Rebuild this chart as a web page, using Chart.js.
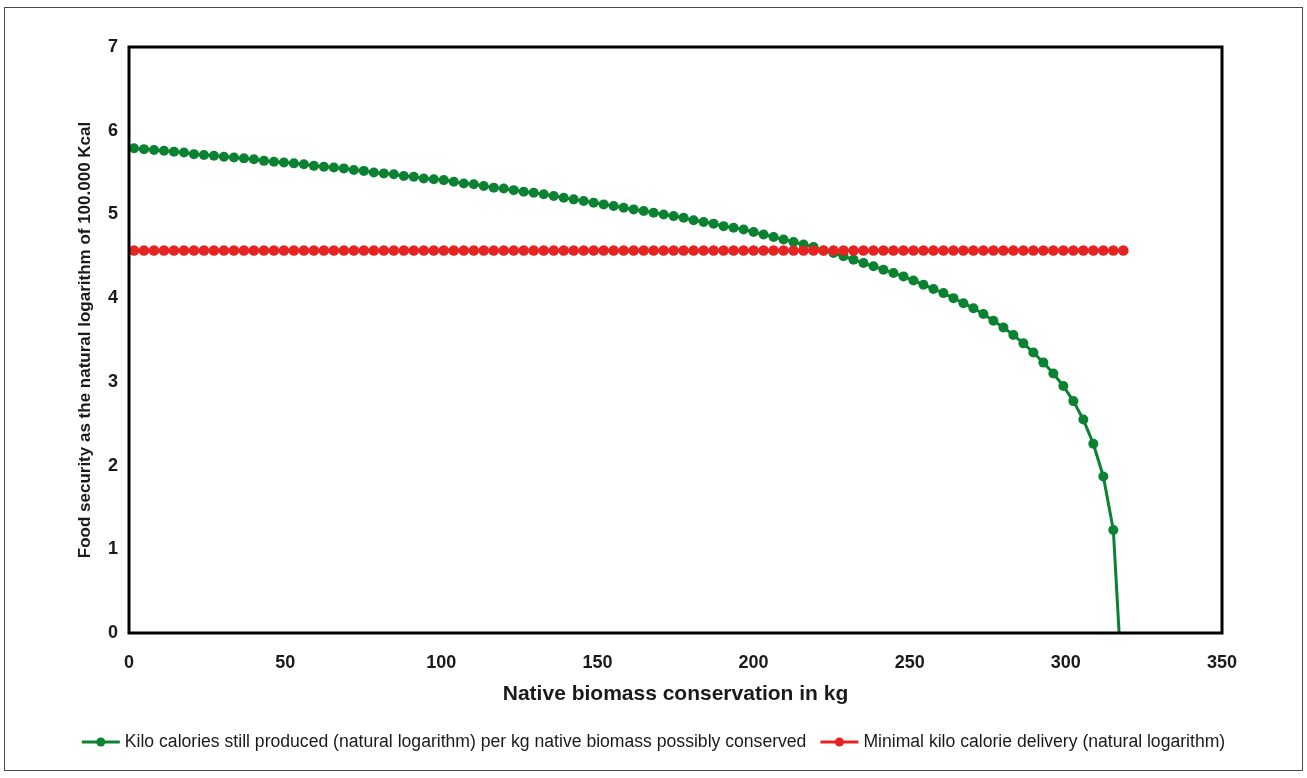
<!DOCTYPE html>
<html>
<head>
<meta charset="utf-8">
<title>Food security and native biomass conservation</title>
<script src="https://cdn.jsdelivr.net/npm/chart.js@4.4.1/dist/chart.umd.min.js"></script>
<style>
  html, body { margin: 0; padding: 0; background: #fff; }
  #wrap { width: 1307px; height: 778px; }
</style>
</head>
<body>
<div id="wrap"><canvas id="chartFood" width="1307" height="778"></canvas></div>
<script>
/* ================================================================
   Food security (ln kcal) against native biomass conserved (kg)
   ================================================================ */

// ============= DATA =============
// native biomass conserved, kg (x of every point)
const biomassKg = [
  1.6, 4.8, 8.0, 11.2, 14.4, 17.6, 20.8, 24.0, 27.2, 30.4,
  33.6, 36.8, 40.0, 43.2, 46.4, 49.6, 52.8, 56.0, 59.2, 62.4,
  65.6, 68.8, 72.0, 75.2, 78.4, 81.6, 84.8, 88.0, 91.2, 94.4,
  97.6, 100.8, 104.0, 107.2, 110.4, 113.6, 116.8, 120.0, 123.2, 126.4,
  129.6, 132.8, 136.0, 139.2, 142.4, 145.6, 148.8, 152.0, 155.2, 158.4,
  161.6, 164.8, 168.0, 171.2, 174.4, 177.6, 180.8, 184.0, 187.2, 190.4,
  193.6, 196.8, 200.0, 203.2, 206.4, 209.6, 212.8, 216.0, 219.2, 222.4,
  225.6, 228.8, 232.0, 235.2, 238.4, 241.6, 244.8, 248.0, 251.2, 254.4,
  257.6, 260.8, 264.0, 267.2, 270.4, 273.6, 276.8, 280.0, 283.2, 286.4,
  289.6, 292.8, 296.0, 299.2, 302.4, 305.6, 308.8, 312.0, 315.2, 318.4
];

// kilo calories still produced, natural logarithm
const keptKcalLog = [
  5.79, 5.78, 5.77, 5.76, 5.75, 5.74, 5.72, 5.71, 5.70, 5.69,
  5.68, 5.67, 5.66, 5.64, 5.63, 5.62, 5.61, 5.60, 5.58, 5.57,
  5.56, 5.55, 5.53, 5.52, 5.50, 5.49, 5.48, 5.46, 5.45, 5.43,
  5.42, 5.41, 5.39, 5.37, 5.36, 5.34, 5.32, 5.31, 5.29, 5.27,
  5.26, 5.24, 5.22, 5.20, 5.18, 5.16, 5.14, 5.12, 5.10, 5.08,
  5.06, 5.04, 5.02, 5.00, 4.98, 4.96, 4.93, 4.91, 4.89, 4.86,
  4.84, 4.82, 4.79, 4.76, 4.73, 4.70, 4.67, 4.64, 4.61, 4.57,
  4.54, 4.50, 4.46, 4.42, 4.38, 4.34, 4.30, 4.26, 4.21, 4.16,
  4.11, 4.06, 4.00, 3.94, 3.88, 3.81, 3.73, 3.65, 3.56, 3.46,
  3.35, 3.23, 3.10, 2.95, 2.77, 2.55, 2.26, 1.87, 1.23, -0.90
];

// minimal kilo calorie delivery, natural logarithm
const minimalKcalLog = [
  4.57, 4.57, 4.57, 4.57, 4.57, 4.57, 4.57, 4.57, 4.57, 4.57,
  4.57, 4.57, 4.57, 4.57, 4.57, 4.57, 4.57, 4.57, 4.57, 4.57,
  4.57, 4.57, 4.57, 4.57, 4.57, 4.57, 4.57, 4.57, 4.57, 4.57,
  4.57, 4.57, 4.57, 4.57, 4.57, 4.57, 4.57, 4.57, 4.57, 4.57,
  4.57, 4.57, 4.57, 4.57, 4.57, 4.57, 4.57, 4.57, 4.57, 4.57,
  4.57, 4.57, 4.57, 4.57, 4.57, 4.57, 4.57, 4.57, 4.57, 4.57,
  4.57, 4.57, 4.57, 4.57, 4.57, 4.57, 4.57, 4.57, 4.57, 4.57,
  4.57, 4.57, 4.57, 4.57, 4.57, 4.57, 4.57, 4.57, 4.57, 4.57,
  4.57, 4.57, 4.57, 4.57, 4.57, 4.57, 4.57, 4.57, 4.57, 4.57,
  4.57, 4.57, 4.57, 4.57, 4.57, 4.57, 4.57, 4.57, 4.57, 4.57
];

const xTickValues = [0, 50, 100, 150, 200, 250, 300, 350];
const yTickValues = [0, 1, 2, 3, 4, 5, 6, 7];

const seriesNames = [
  'Kilo calories still produced (natural logarithm) per kg native biomass possibly conserved',
  'Minimal kilo calorie delivery (natural logarithm)'
];
const xTitle = 'Native biomass conservation in kg';
const yTitle = 'Food security as the natural logarithm of 100.000 Kcal';

const GREEN = '#0a8232';
const RED = '#e52421';
const INK = '#1a1a1a';

function toPoints(ys) {
  return ys.map(function(y, i) { return { x: biomassKg[i], y: y }; });
}

// ============= FRAME + LEGEND =============
const framePlugin = {
  id: 'frame',
  beforeDraw: function(chart) {
    const ctx = chart.ctx;
    ctx.save();
    ctx.fillStyle = '#fff';
    ctx.fillRect(0, 0, chart.width, chart.height);
    ctx.strokeStyle = '#4a4a4a';
    ctx.lineWidth = 1;
    ctx.strokeRect(4.5, 7.5, chart.width - 9, chart.height - 15);
    ctx.restore();
  },
  afterDatasetsDraw: function(chart) {
    const ctx = chart.ctx;
    const a = chart.chartArea;
    ctx.save();
    ctx.strokeStyle = '#000';
    ctx.lineWidth = 3;
    ctx.strokeRect(a.left, a.top, a.right - a.left, a.bottom - a.top);
    ctx.restore();
  },
  afterDraw: function(chart) {
    const ctx = chart.ctx;
    const markW = 38, gapText = 5, gapItem = 14, y = 742;
    ctx.save();
    ctx.font = '17.6px "Liberation Sans", Arial, sans-serif';
    const items = chart.data.datasets
      .slice()
      .sort(function(a, b) { return a.legendIndex - b.legendIndex; })
      .map(function(ds) {
        return { text: ds.label, color: ds.borderColor, w: ctx.measureText(ds.label).width };
      });
    let total = gapItem * (items.length - 1);
    items.forEach(function(it) { total += markW + gapText + it.w; });
    let x = (chart.width - total) / 2;
    items.forEach(function(it) {
      ctx.strokeStyle = it.color;
      ctx.lineWidth = 3;
      ctx.beginPath();
      ctx.moveTo(x, y);
      ctx.lineTo(x + markW, y);
      ctx.stroke();
      ctx.fillStyle = it.color;
      ctx.beginPath();
      ctx.arc(x + markW / 2, y, 4.5, 0, Math.PI * 2);
      ctx.fill();
      ctx.fillStyle = INK;
      ctx.textBaseline = 'middle';
      ctx.textAlign = 'left';
      ctx.fillText(it.text, x + markW + gapText, y);
      x += markW + gapText + it.w + gapItem;
    });
    ctx.restore();
  }
};

// ============= CHART =============
const ctxFood = document.getElementById('chartFood');
new Chart(ctxFood, {
  type: 'line',
  data: {
    datasets: [{
      label: seriesNames[0],
      legendIndex: 0,
      data: toPoints(keptKcalLog),
      borderColor: GREEN,
      backgroundColor: GREEN,
      borderWidth: 3,
      pointRadius: 5,
      pointBorderWidth: 0,
      pointBackgroundColor: GREEN,
      tension: 0,
      clip: 0,
      order: 2
    }, {
      label: seriesNames[1],
      legendIndex: 1,
      data: toPoints(minimalKcalLog),
      borderColor: RED,
      backgroundColor: RED,
      borderWidth: 3,
      pointRadius: 5.3,
      pointBorderWidth: 0,
      pointBackgroundColor: RED,
      tension: 0,
      order: 1
    }]
  },
  options: {
    responsive: false,
    animation: false,
    devicePixelRatio: 1,
    layout: { padding: { top: 47, right: 85, bottom: 0, left: 0 } },
    plugins: {
      legend: { display: false },
      tooltip: { enabled: false }
    },
    scales: {
      x: {
        type: 'linear',
        min: 0,
        max: 350,
        grid: { display: false, drawTicks: false },
        border: { display: false },
        afterFit: function(scale) { scale.height = 145; },
        afterBuildTicks: function(scale) {
          scale.ticks = xTickValues.map(function(v) { return { value: v }; });
        },
        ticks: {
          padding: 19,
          color: INK,
          font: { family: 'Arial, "Liberation Sans", sans-serif', size: 18, weight: 'bold' }
        },
        title: {
          display: true,
          text: xTitle,
          color: INK,
          font: { family: 'Arial, "Liberation Sans", sans-serif', size: 21, weight: 'bold' },
          padding: { top: 0, bottom: 71 }
        }
      },
      y: {
        min: 0,
        max: 7,
        grid: { display: false, drawTicks: false },
        border: { display: false },
        afterFit: function(scale) { scale.width = 129; },
        afterBuildTicks: function(scale) {
          scale.ticks = yTickValues.map(function(v) { return { value: v }; });
        },
        ticks: {
          padding: 11,
          color: INK,
          font: { family: 'Arial, "Liberation Sans", sans-serif', size: 18, weight: 'bold' }
        },
        title: {
          display: true,
          text: yTitle,
          color: INK,
          font: { family: 'Arial, "Liberation Sans", sans-serif', size: 17, weight: 'bold' },
          padding: { top: 75, bottom: 0 }
        }
      }
    }
  },
  plugins: [framePlugin]
});
</script>
</body>
</html>
